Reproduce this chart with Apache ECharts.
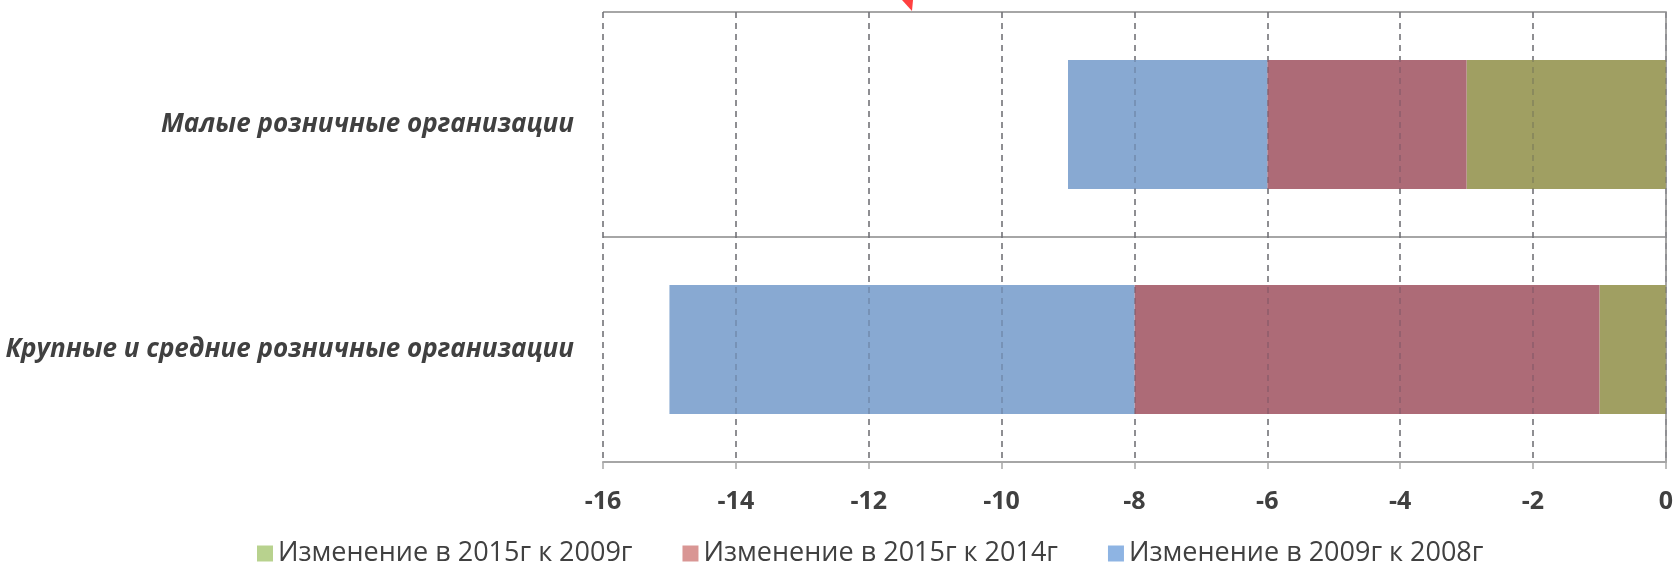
<!DOCTYPE html>
<html>
<head>
<meta charset="utf-8">
<script src="https://cdn.jsdelivr.net/npm/echarts@6/dist/echarts.min.js"></script>
<style>
html,body{margin:0;padding:0;background:#fff;}
#chart{width:1676px;height:572px;}
</style>
</head>
<body>
<div id="chart"></div>
<script>
const categories = ['Крупные и средние розничные организации', 'Малые розничные организации'];
const seriesNames = ['Изменение в 2015г к 2009г', 'Изменение в 2015г к 2014г', 'Изменение в 2009г к 2008г'];
const change2015vs2009 = [-1, -3];
const change2015vs2014 = [-7, -3];
const change2009vs2008 = [-7, -3];
const xTicks = [-16, -14, -12, -10, -8, -6, -4, -2, 0];

const barColors = ['#a09f62', '#ad6b77', '#88a9d2'];
const legendColors = ['#b8d28e', '#d99694', '#8eb4e3'];
const values = [change2015vs2009, change2015vs2014, change2009vs2008];

const chart = echarts.init(document.getElementById('chart'));
const font = '"Open Sans", "DejaVu Sans", sans-serif';

chart.setOption({
  animation: false,
  backgroundColor: '#ffffff',
  grid: { left: 603, right: 10, top: 12, bottom: 110 },
  legend: {
    bottom: 0,
    left: 252,
    itemWidth: 16,
    itemHeight: 16,
    itemGap: 50,
    icon: 'rect',
    textStyle: { fontFamily: font, fontSize: 27, color: '#404040' },
    data: seriesNames.map((n, i) => ({ name: n, itemStyle: { color: legendColors[i] } }))
  },
  xAxis: [{
    type: 'value',
    min: xTicks[0],
    max: xTicks[xTicks.length - 1],
    interval: 2,
    position: 'bottom',
    axisLine: { show: true, onZero: false, lineStyle: { color: '#a6a6a6', width: 2 } },
    axisTick: { show: true, length: 7, lineStyle: { color: '#a6a6a6', width: 1.5 } },
    axisLabel: {
      margin: 27,
      fontFamily: font, fontSize: 25, fontWeight: 'bold', color: '#404040',
      formatter: v => (xTicks.indexOf(v) >= 0 ? String(v) : '')
    },
    splitLine: { show: true, lineStyle: { color: '#868686', width: 1.5, type: [6, 5] } }
  }, {
    type: 'value',
    min: xTicks[0],
    max: xTicks[xTicks.length - 1],
    interval: 2,
    position: 'top',
    z: 5,
    axisLine: { show: false },
    axisTick: { show: false },
    axisLabel: { show: false },
    splitLine: { show: true, lineStyle: { color: 'rgba(60,60,80,0.28)', width: 1.5, type: [6, 5] } }
  }],
  yAxis: [{
    type: 'category',
    data: categories,
    position: 'left',
    axisLine: { show: false },
    axisTick: { show: false },
    axisLabel: {
      margin: 29,
      fontFamily: font, fontSize: 26, fontWeight: 'bold', fontStyle: 'italic', color: '#404040'
    },
    splitLine: { show: true, lineStyle: { color: '#a6a6a6', width: 2 } }
  }, {
    type: 'category',
    data: categories,
    position: 'right',
    axisLine: { show: true, onZero: false, lineStyle: { color: '#a6a6a6', width: 2 } },
    axisTick: { show: false },
    axisLabel: { show: false },
    splitLine: { show: false }
  }],
  series: seriesNames.map((n, i) => ({
    name: n,
    type: 'bar',
    stack: 'total',
    xAxisIndex: 0,
    yAxisIndex: 0,
    barCategoryGap: '42.7%',
    itemStyle: { color: barColors[i] },
    data: values[i]
  })),
  graphic: [{
    type: 'polygon',
    shape: { points: [[902, 0], [913, 0], [912, 11]] },
    style: { fill: '#ff4040' },
    z: 10
  }]
});
</script>
</body>
</html>
